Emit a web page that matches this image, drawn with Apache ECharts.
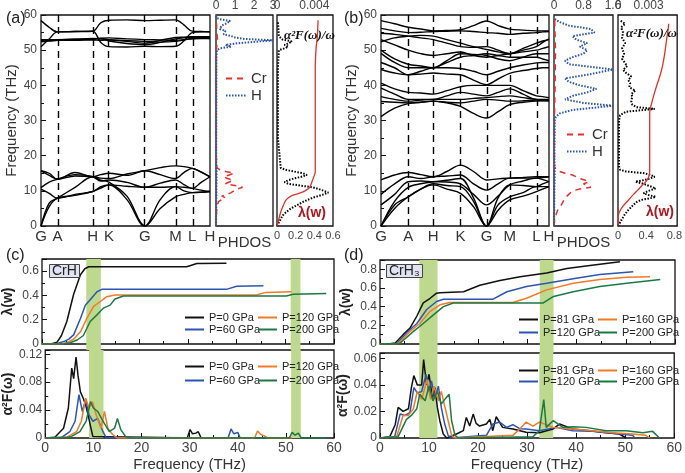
<!DOCTYPE html>
<html>
<head>
<meta charset="utf-8">
<script src="https://cdn.jsdelivr.net/npm/echarts@6/dist/echarts.min.js"></script>
<style>
  html, body { margin: 0; padding: 0; background: #fff; }
  #main { width: 685px; height: 473px; }
</style>
</head>
<body>
<div id="main"></div>
<script>
  // high symmetry points along the k-path
  const kNames = ['G', 'A', 'H', 'K', 'G', 'M', 'L', 'H']
  const kposA = [0, 0.097, 0.306, 0.402, 0.615, 0.796, 0.895, 1]
  const kposB = [0, 0.162, 0.311, 0.473, 0.628, 0.766, 0.925, 1]

  // (a) CrH bands, values at each point and midway between (THz)
  const bandsLowA = [
    [0, 5.5, 7.9, 8.7, 9.8, 10.8, 11.7, 7.5, 0, 5.0, 8.3, 9.0, 9.5, 9.6, 9.8],
    [0, 6.5, 7.9, 11.0, 14.0, 13.0, 12.5, 8.5, 0, 7.5, 11.2, 11.0, 10.7, 10.2, 9.8],
    [10.5, 9.3, 7.9, 9.0, 9.8, 11.2, 11.7, 11.3, 11.0, 11.0, 11.2, 10.0, 9.5, 9.6, 9.8],
    [10.9, 12.5, 13.3, 14.6, 14.0, 12.8, 13.1, 12.4, 11.0, 12.2, 13.1, 11.8, 10.7, 12.4, 14.0],
    [15.7, 14.4, 13.3, 15.2, 14.0, 14.6, 15.0, 14.4, 15.7, 14.6, 13.5, 15.2, 16.4, 15.3, 14.0],
    [15.7, 15.0, 13.3, 14.2, 14.0, 13.6, 13.5, 14.8, 15.7, 16.6, 17.1, 16.9, 16.4, 15.4, 14.0]
  ]
  const bandsHighA = [
    [58.4, 56.5, 55.2, 55.3, 55.4, 57.8, 58.5, 58.6, 58.4, 58.5, 58.6, 57.2, 55.4, 55.3, 55.2],
    [51.0, 53.2, 55.2, 55.3, 55.4, 52.2, 51.0, 50.9, 51.1, 51.0, 51.1, 52.6, 55.0, 55.2, 55.2],
    [52.8, 52.9, 53.0, 53.1, 53.3, 53.2, 53.0, 52.5, 52.0, 52.8, 53.6, 53.7, 53.8, 53.8, 53.8],
    [52.5, 52.7, 52.8, 52.9, 53.1, 53.3, 52.6, 51.9, 51.6, 52.2, 53.2, 53.5, 53.6, 53.5, 53.3],
    [52.4, 52.6, 52.8, 52.8, 52.9, 52.8, 52.9, 52.7, 52.5, 52.3, 52.5, 52.9, 53.2, 53.3, 53.3],
    [53.0, 53.0, 53.0, 53.1, 53.2, 53.4, 53.5, 53.2, 53.0, 52.9, 52.8, 53.0, 53.3, 53.5, 53.8]
  ]

  // (b) CrH3 bands
  const bandsLowB = [
    [0, 5.0, 8.3, 10.5, 11.7, 10.5, 9.3, 5.5, 0, 4.5, 7.4, 8.5, 9.8, 10.5, 11.2],
    [0, 6.0, 8.3, 10.5, 12.0, 11.5, 11.2, 7.0, 0, 6.0, 8.3, 9.5, 11.2, 11.2, 11.2],
    [0, 7.0, 11.0, 12.0, 12.6, 13.0, 13.5, 8.0, 0, 8.0, 11.7, 11.5, 11.2, 12.0, 12.6],
    [6.0, 9.0, 12.6, 12.8, 12.6, 12.5, 12.0, 9.0, 6.0, 8.5, 11.7, 12.8, 13.6, 13.2, 12.6],
    [9.0, 12.0, 14.0, 13.5, 14.0, 14.2, 14.5, 12.0, 10.2, 12.0, 13.6, 13.6, 13.6, 13.8, 14.0],
    [13.1, 14.5, 15.2, 14.6, 14.0, 15.5, 17.3, 15.5, 13.1, 13.4, 13.6, 13.8, 14.0, 14.0, 14.0]
  ]
  const bandsHighB = [
    [58.4, 57.5, 56.5, 56.0, 55.5, 55.6, 55.8, 57.0, 58.3, 57.0, 56.0, 55.7, 55.5, 55.5, 55.5],
    [56.2, 55.5, 55.0, 55.1, 55.3, 55.4, 55.5, 55.3, 55.0, 54.8, 54.5, 54.8, 55.0, 55.2, 55.3],
    [54.8, 54.5, 54.0, 53.5, 53.0, 52.0, 51.0, 50.8, 51.0, 50.0, 49.0, 50.0, 51.0, 52.2, 53.2],
    [52.4, 53.5, 54.0, 54.2, 54.0, 53.0, 52.0, 51.0, 50.2, 49.5, 49.0, 50.5, 52.0, 52.6, 53.0],
    [53.0, 51.5, 50.0, 49.0, 48.5, 49.0, 49.5, 48.5, 48.0, 48.5, 49.0, 49.5, 50.0, 50.5, 51.0],
    [50.0, 47.5, 46.0, 45.5, 45.0, 46.5, 48.0, 48.5, 49.0, 48.5, 48.0, 48.0, 48.0, 47.5, 47.0],
    [49.1, 46.5, 45.0, 45.0, 45.0, 47.0, 49.0, 48.8, 48.5, 47.5, 47.0, 48.0, 49.0, 49.0, 49.0],
    [46.5, 45.0, 43.0, 44.0, 45.0, 45.0, 44.8, 44.0, 43.0, 44.0, 45.0, 45.8, 46.4, 46.5, 46.5],
    [44.5, 43.5, 43.0, 43.2, 43.5, 43.2, 43.0, 41.5, 40.2, 41.8, 43.4, 44.2, 44.8, 45.0, 45.0],
    [40.6, 39.0, 38.0, 37.8, 37.5, 38.5, 39.6, 40.0, 40.0, 40.0, 40.0, 38.5, 37.0, 36.8, 36.5],
    [39.2, 37.5, 36.0, 36.0, 36.0, 37.0, 38.0, 37.5, 37.0, 38.0, 39.0, 37.5, 36.0, 36.0, 36.0],
    [36.8, 36.0, 35.5, 35.8, 36.0, 36.0, 36.0, 36.3, 36.5, 36.8, 37.0, 36.5, 36.0, 35.9, 35.8],
    [35.4, 35.2, 35.0, 35.2, 35.5, 35.2, 35.0, 35.5, 36.0, 35.8, 35.5, 35.6, 35.8, 35.7, 35.6],
    [31.1, 33.5, 34.8, 35.2, 35.5, 35.0, 34.0, 32.0, 30.7, 32.5, 34.5, 35.2, 35.5, 35.6, 35.6]
  ]

  // phonon DOS, [dos, freq]
  const crDosA = [[0,0],[0.01,2],[0.03,4],[0.06,6],[0.15,7],[0.3,7.5],[0.5,8],[0.3,8.5],[0.6,9],[0.8,9.5],[0.7,10],[1.1,10.5],[1.4,11],[1.0,11.5],[0.5,12],[0.7,12.5],[0.9,13],[0.6,13.5],[0.4,14],[0.7,14.5],[0.95,15],[0.5,15.5],[0.2,16],[0.05,16.5],[0.02,17],[0.01,20],[0.01,40],[0.02,50],[0.05,52],[0.08,53],[0.05,55],[0.02,58],[0,60]]
  const hDosA = [[0,0],[0.02,10],[0.03,16],[0.01,20],[0.02,48],[0.05,50],[0.2,50.5],[0.8,51],[0.5,51.5],[1.2,52],[2.3,52.5],[3.0,52.8],[1.5,53.2],[1.0,53.6],[0.8,54],[0.4,54.5],[0.3,55],[0.5,55.5],[0.2,56],[0.1,56.5],[0.3,57],[0.5,57.5],[0.75,58.3],[0.2,58.8],[0.02,59.2],[0,60]]
  const crDosB = [[0,0],[0.02,2],[0.05,3],[0.08,4],[0.12,5],[0.2,6],[0.25,7],[0.3,8],[0.4,9],[0.5,10],[0.7,10.5],[1.0,11],[1.05,11.5],[0.8,12],[0.95,12.5],[0.85,13],[0.7,13.5],[0.6,14],[0.5,14.5],[0.3,15],[0.15,15.5],[0.05,16],[0.01,17],[0.01,30],[0.03,40],[0.04,50],[0.02,58],[0,60]]
  const hDosB = [[0,0],[0.01,10],[0.02,15],[0.01,20],[0.02,30],[0.05,31],[0.15,32],[0.5,33],[1.6,34.2],[0.8,35],[0.3,36],[0.5,37],[0.9,38],[1.15,39],[0.7,40],[0.4,41],[0.3,42],[0.9,43],[1.6,44.5],[1.2,45],[0.4,46],[0.3,47],[0.5,48],[0.8,49],[0.9,50],[0.7,51],[0.9,52],[0.6,53],[0.5,54],[1.1,55],[1.0,56],[0.4,57],[0.15,58],[0,59]]

  // alpha^2F/omega and lambda, [value, freq]
  const a2fA = [[0,0],[0.0002,1],[0.0004,2],[0.0006,3],[0.001,4],[0.0015,5],[0.0022,6],[0.0029,7],[0.0038,8],[0.005,9],[0.0055,9.5],[0.005,10],[0.0045,10.5],[0.0038,11],[0.0025,11.5],[0.0012,12],[0.0008,12.5],[0.0012,13],[0.0018,13.5],[0.0026,14],[0.0032,14.5],[0.0028,15],[0.0018,15.5],[0.0009,16],[0.0004,16.5],[0.0002,17],[0.0001,25],[0.0001,45],[0.0002,50],[0.0008,50.5],[0.0012,51],[0.0008,51.5],[0.0013,52],[0.0016,52.5],[0.0006,53],[0.0002,54],[0.0001,58]]
  const lamA = [[0,0],[0.02,2],[0.04,4],[0.07,6],[0.1,7.5],[0.15,8.5],[0.25,9.4],[0.3,10],[0.35,11],[0.38,13],[0.41,15.5],[0.41,45],[0.42,51],[0.43,53],[0.44,58.5]]
  const a2fB = [[0,0],[0.0002,1],[0.0004,2],[0.0006,3],[0.001,4.5],[0.0015,6],[0.0019,7],[0.0024,7.5],[0.0033,8],[0.0037,8.3],[0.003,8.8],[0.0025,9.3],[0.003,10],[0.0037,10.7],[0.0036,11.2],[0.0025,12],[0.0017,12.6],[0.0028,13.2],[0.0036,14],[0.0032,14.5],[0.0026,15],[0.0008,15.5],[0.0002,16],[0.0001,17],[0.0001,30],[0.0002,31.5],[0.0008,32.5],[0.0036,33.3],[0.0018,33.8],[0.0014,34.5],[0.0013,35.5],[0.0014,36.8],[0.0013,37.5],[0.0017,38.5],[0.0011,39.5],[0.0012,40.6],[0.001,41.5],[0.0013,42.5],[0.0008,43.5],[0.0005,44.4],[0.0009,45.5],[0.0007,46.3],[0.0004,47.5],[0.0006,49],[0.0004,50.5],[0.0007,52],[0.0004,53.5],[0.0005,55],[0.0003,56.5],[0.0007,57.5],[0.0002,58.5]]
  const lamB = [[0,0],[0.005,3],[0.02,4],[0.065,5.5],[0.15,7.4],[0.22,9],[0.28,10.2],[0.34,11.5],[0.41,13],[0.445,14.5],[0.45,16],[0.45,32],[0.46,33.5],[0.49,35.8],[0.52,38],[0.56,40.6],[0.6,43],[0.63,45.3],[0.655,48],[0.67,50],[0.69,53],[0.71,55.7],[0.72,57.5]]

  // (c) CrH, [freq, value]
  const lamC0 = [[0,0],[2,0.002],[3.1,0.015],[4,0.07],[5.1,0.185],[6.5,0.41],[7.9,0.57],[8.8,0.62],[9.6,0.636],[29.7,0.636],[30.4,0.645],[31.8,0.663],[37.9,0.666]]
  const lamC60 = [[0,0],[3,0.003],[4.5,0.02],[5.5,0.04],[6.5,0.075],[7.9,0.21],[8.9,0.32],[9.9,0.365],[11.3,0.43],[12.3,0.45],[37.9,0.45],[40,0.475],[45.5,0.48]]
  const lamC120 = [[0,0],[4,0.003],[5.1,0.01],[6.5,0.04],[7.9,0.1],[9.2,0.21],[10.6,0.31],[12,0.35],[13.3,0.39],[15,0.403],[44,0.403],[46,0.425],[51.3,0.43]]
  const lamC200 = [[0,0],[4.5,0.003],[5.8,0.01],[7.3,0.035],[8.5,0.07],[9.9,0.185],[11.3,0.24],[12.6,0.295],[14,0.32],[15,0.37],[16.7,0.395],[50.2,0.395],[51.6,0.41],[58.4,0.415]]
  const a2fC0 = [[0,0],[2,0.001],[2.4,0.002],[3.8,0.014],[4.8,0.043],[5.5,0.1],[5.9,0.085],[6.4,0.116],[6.8,0.09],[7.3,0.066],[7.9,0.057],[8.4,0.047],[8.9,0.033],[9.4,0.017],[9.9,0.002],[10.3,0],[29.5,0],[30.1,0.012],[30.6,0.006],[31.3,0.007],[31.8,0.009],[32.4,0],[38,0]]
  const a2fC60 = [[0,0],[3.4,0.001],[5.1,0.009],[6.2,0.024],[7,0.062],[7.7,0.038],[8.4,0.055],[9.1,0.033],[9.9,0.024],[10.9,0.028],[12,0.009],[12.6,0.001],[38,0],[38.6,0.013],[39.2,0.006],[40,0.008],[40.5,0],[45.5,0]]
  const a2fC120 = [[0,0],[4.4,0.001],[6.5,0.009],[7.5,0.024],[8.4,0.057],[9.1,0.043],[9.8,0.052],[10.6,0.033],[11.6,0.014],[12.3,0.038],[13,0.014],[14,0.005],[15,0],[43.5,0],[44.1,0.01],[44.8,0.005],[45.5,0.003],[46.2,0],[51.3,0]]
  const a2fC200 = [[0,0],[5.1,0.001],[7.2,0.009],[8.5,0.024],[9.4,0.052],[10,0.043],[10.9,0.038],[12,0.024],[13.3,0.009],[14.4,0.014],[15,0.028],[15.7,0.012],[16.7,0.002],[17.5,0],[50.7,0],[51.3,0.008],[51.9,0.004],[52.6,0.007],[53.2,0],[58.4,0]]

  // (d) CrH3
  const lamD81 = [[0,0],[2,0.002],[3.1,0.01],[4.7,0.1],[6.1,0.17],[7.5,0.3],[8.8,0.44],[10.2,0.49],[11.5,0.545],[12.2,0.55],[17,0.56],[20.3,0.63],[24.4,0.68],[28.5,0.72],[33.9,0.76],[38,0.81],[42.7,0.84],[48.8,0.88]]
  const lamD120 = [[0,0],[3.5,0.005],[5.4,0.12],[7.5,0.22],[9.5,0.37],[11.5,0.455],[12.9,0.48],[23,0.48],[25.8,0.56],[29.8,0.615],[33.9,0.65],[39.3,0.7],[44.7,0.745],[51.5,0.775]]
  const lamD160 = [[0,0],[3.7,0.005],[6.1,0.135],[8.1,0.22],[10.2,0.35],[12.2,0.42],[14.2,0.445],[27,0.445],[29.8,0.49],[33.9,0.58],[39.3,0.65],[44.7,0.69],[50.2,0.715],[54.9,0.72]]
  const lamD200 = [[0,0],[4,0.005],[6.8,0.135],[8.8,0.22],[10.8,0.31],[12.9,0.4],[14.9,0.44],[33.2,0.44],[35.3,0.51],[39.3,0.56],[44.7,0.615],[50.2,0.65],[57,0.69]]
  const a2fD81 = [[0,0],[2,0.001],[3.1,0.01],[3.7,0.023],[4.7,0.02],[5.8,0.022],[6.4,0.038],[6.9,0.047],[7.6,0.04],[8.5,0.04],[8.9,0.059],[9.5,0.04],[10,0.048],[10.7,0.03],[11.2,0.038],[11.7,0.023],[12.2,0.013],[12.9,0.003],[13.6,0],[15.6,0.003],[17,0.0055],[17.6,0.0155],[18.3,0.009],[19,0.018],[19.6,0.011],[20.3,0.009],[21.7,0.0105],[22.4,0.014],[23,0.0055],[23.7,0.016],[25,0.008],[27.1,0.0068],[29.8,0.0043],[32.5,0.004],[35.3,0.0068],[36.6,0.0105],[39.3,0.0068],[42.7,0.0055],[46.1,0.004],[48.8,0.003],[50.2,0]]
  const a2fD120 = [[0,0],[3,0.001],[4.1,0.018],[5.1,0.017],[6.1,0.019],[6.9,0.038],[7.6,0.034],[8.5,0.035],[9.4,0.048],[9.9,0.035],[10.5,0.043],[11.2,0.03],[11.9,0.039],[12.5,0.023],[13.2,0.0105],[13.9,0.002],[14.6,0],[21.7,0.002],[23,0.0105],[24.4,0.012],[25.8,0.008],[27.1,0.01],[28.5,0.007],[29.8,0.0068],[32.5,0.0055],[35.9,0.008],[39.3,0.0055],[43.4,0.005],[47.5,0.0035],[51.5,0.002],[52,0]]
  const a2fD160 = [[0,0],[3.4,0.001],[4.7,0.017],[5.8,0.017],[6.8,0.022],[7.6,0.035],[8.5,0.029],[9.6,0.044],[10.3,0.029],[11,0.039],[11.9,0.028],[12.5,0.035],[13.2,0.024],[13.9,0.013],[14.6,0.002],[15.3,0],[27.1,0.002],[28.5,0.0068],[29.8,0.012],[31.2,0.009],[32.5,0.012],[35.3,0.008],[39.3,0.0068],[43.4,0.0055],[47.5,0.004],[51.5,0.003],[54.2,0.002],[55,0]]
  const a2fD200 = [[0,0],[3.7,0.001],[5.4,0.014],[6.4,0.017],[7.5,0.022],[8.1,0.033],[9.2,0.028],[10,0.039],[10.8,0.028],[11.7,0.035],[12.5,0.0255],[13.4,0.03],[14.1,0.033],[14.6,0.013],[15.3,0.002],[16,0],[31.2,0.001],[32.5,0.0055],[33.4,0.029],[33.9,0.008],[35.3,0.013],[37.3,0.008],[39.3,0.0085],[42,0.008],[46.1,0.0055],[50.2,0.0055],[53.6,0.004],[55.6,0.005],[57,0]]

  // highlighted frequency windows (THz)
  const greenC = [[9.1, 12.1], [51.1, 53.1]]
  const greenD = [[8.0, 11.7], [32.5, 35.3]]

  const cBlack = '#111', cBlue = '#2d55b2', cOrange = '#f27a28', cGreen = '#1b7a44'
  const cRed = '#e3312b', cDosBlue = '#2a53b6'

  const chart = echarts.init(document.getElementById('main'))

  function samplePos (kpos) {
    let out = []
    for (let i = 0; i < kpos.length; i++) {
      out.push(kpos[i])
      if (i < kpos.length - 1) out.push((kpos[i] + kpos[i + 1]) / 2)
    }
    return out
  }
  function kLabel (kpos) {
    return function (v) {
      let best = 0
      kpos.forEach((p, i) => { if (Math.abs(p - v) < Math.abs(kpos[best] - v)) best = i })
      return kNames[best]
    }
  }

  const frame = { show: true, borderColor: '#111', borderWidth: 1.3 }
  const noAxis = { axisLine: { show: false }, splitLine: { show: false }, axisTick: { show: false }, axisLabel: { show: false } }
  const lbl = { fontSize: 12, color: '#444' }
  const tickIn = { inside: true, length: 5, lineStyle: { color: '#111' } }
  const minorIn = { show: true, splitNumber: 2, length: 3, lineStyle: { color: '#111' } }

  let series = []

  function bandSeries (bands, kpos, xi, yi) {
    const kx = samplePos(kpos)
    bands.forEach((b, n) => {
      let s = {
        type: 'line', xAxisIndex: xi, yAxisIndex: yi, smooth: 0.35, showSymbol: false, silent: true,
        lineStyle: { color: '#000', width: 1.4 },
        data: b.map((v, i) => [kx[i], v])
      }
      if (n === 0) {
        s.markLine = {
          silent: true, symbol: 'none', label: { show: false },
          lineStyle: { color: '#000', type: [7, 5], width: 1.4 },
          data: kpos.slice(1, -1).map(v => ({ xAxis: v }))
        }
      }
      series.push(s)
    })
  }
  bandSeries(bandsLowA.concat(bandsHighA), kposA, 0, 0)
  bandSeries(bandsLowB.concat(bandsHighB), kposB, 5, 3)

  function dosSeries (cr, h, xi, yi) {
    series.push({ name: 'Cr', type: 'line', xAxisIndex: xi, yAxisIndex: yi, showSymbol: false, symbol: 'none',
      lineStyle: { color: cRed, width: 1.5, type: [6, 5] }, itemStyle: { color: cRed }, data: cr })
    series.push({ name: 'H', type: 'line', xAxisIndex: xi, yAxisIndex: yi, showSymbol: false, symbol: 'none',
      lineStyle: { color: cDosBlue, width: 2, type: [1.5, 1.5] }, itemStyle: { color: cDosBlue }, data: h })
  }
  dosSeries(crDosA, hDosA, 1, 1)
  dosSeries(crDosB, hDosB, 6, 4)

  function eliSeries (a2f, lam, xiTop, xiBot, yi) {
    series.push({ type: 'line', xAxisIndex: xiTop, yAxisIndex: yi, showSymbol: false, silent: true,
      lineStyle: { color: '#000', width: 2, type: [1.5, 1.5] }, data: a2f })
    series.push({ type: 'line', xAxisIndex: xiBot, yAxisIndex: yi, showSymbol: false, silent: true, smooth: 0.3,
      lineStyle: { color: cRed, width: 1.3 }, data: lam })
  }
  eliSeries(a2fA, lamA, 3, 4, 2)
  eliSeries(a2fB, lamB, 8, 9, 5)

  function greenArea (xi, yi, ranges) {
    series.push({ type: 'line', xAxisIndex: xi, yAxisIndex: yi, data: [], z: 1, silent: true,
      markArea: { silent: true, itemStyle: { color: '#bcd98d' }, data: ranges.map(r => [{ xAxis: r[0] }, { xAxis: r[1] }]) } })
  }
  function presSeries (name, color, data, xi, yi) {
    series.push({ name: name, type: 'line', xAxisIndex: xi, yAxisIndex: yi, showSymbol: false, symbol: 'none', z: 3,
      lineStyle: { color: color, width: 1.5 }, itemStyle: { color: color }, data: data })
  }
  greenArea(10, 6, greenC)
  greenArea(11, 7, greenC)
  greenArea(14, 10, greenC)
  greenArea(12, 8, greenD)
  greenArea(13, 9, greenD)
  greenArea(15, 11, greenD)
  presSeries('P=0 GPa', cBlack, lamC0, 10, 6)
  presSeries('P=60 GPa', cBlue, lamC60, 10, 6)
  presSeries('P=120 GPa', cOrange, lamC120, 10, 6)
  presSeries('P=200 GPa', cGreen, lamC200, 10, 6)
  presSeries('P=0 GPa', cBlack, a2fC0, 11, 7)
  presSeries('P=60 GPa', cBlue, a2fC60, 11, 7)
  presSeries('P=120 GPa', cOrange, a2fC120, 11, 7)
  presSeries('P=200 GPa', cGreen, a2fC200, 11, 7)
  // (d) names carry a trailing space so their legend colours stay apart from (c)
  presSeries('P=81 GPa', cBlack, lamD81, 12, 8)
  presSeries('P=120 GPa ', cBlue, lamD120, 12, 8)
  presSeries('P=160 GPa', cOrange, lamD160, 12, 8)
  presSeries('P=200 GPa ', cGreen, lamD200, 12, 8)
  presSeries('P=81 GPa', cBlack, a2fD81, 13, 9)
  presSeries('P=120 GPa ', cBlue, a2fD120, 13, 9)
  presSeries('P=160 GPa', cOrange, a2fD160, 13, 9)
  presSeries('P=200 GPa ', cGreen, a2fD200, 13, 9)

  const freqAxisX = (gi, withLabels) => ({
    type: 'value', gridIndex: gi, min: 0, max: 60, interval: 10,
    axisLine: { show: false }, splitLine: { show: false },
    axisTick: tickIn, minorTick: minorIn,
    axisLabel: withLabels ? { fontSize: 14, color: '#444', margin: 3 } : { show: false },
    name: withLabels ? 'Frequency (THz)' : '', nameLocation: 'middle', nameGap: 19,
    nameTextStyle: { fontSize: 15, color: '#333' }
  })
  const gapAxisX = gi => Object.assign({ type: 'value', gridIndex: gi, min: 0, max: 60 }, noAxis)
  const gapAxisY = gi => Object.assign({ type: 'value', gridIndex: gi, min: 0, max: 1 }, noAxis)
  const valueAxisY = (gi, max, interval, name) => ({
    type: 'value', gridIndex: gi, min: 0, max: max, interval: interval,
    axisLine: { show: false }, splitLine: { show: false },
    axisTick: tickIn, minorTick: minorIn,
    axisLabel: Object.assign({ showMaxLabel: false, margin: 3 }, lbl),
    name: name, nameLocation: 'middle', nameGap: 27, nameRotate: 90,
    nameTextStyle: { fontSize: 14, fontWeight: 'bold', color: '#222' }
  })
  const freqAxisY = (gi, labelled) => labelled ? {
    type: 'value', gridIndex: gi, min: 0, max: 60, interval: 10,
    axisLine: { show: false }, splitLine: { show: false },
    axisTick: tickIn, minorTick: minorIn,
    axisLabel: Object.assign({ margin: 4 }, lbl),
    name: 'Frequency (THz)', nameLocation: 'middle', nameGap: 22, nameRotate: 90,
    nameTextStyle: { fontSize: 15, color: '#333' }
  } : Object.assign({ type: 'value', gridIndex: gi, min: 0, max: 60 }, noAxis)
  const topAxis = (gi, max, interval) => ({
    type: 'value', gridIndex: gi, position: 'top', min: 0, max: max, interval: interval,
    axisLine: { show: false }, splitLine: { show: false }, axisTick: { show: false },
    axisLabel: Object.assign({ margin: 3, showMaxLabel: max % interval === 0 }, lbl)
  })
  const botAxis = (gi, max, interval) => ({
    type: 'value', gridIndex: gi, position: 'bottom', min: 0, max: max, interval: interval,
    axisLine: { show: false }, splitLine: { show: false }, axisTick: { show: false },
    axisLabel: { margin: 4, fontSize: 11, color: '#444', showMaxLabel: Math.abs(max / interval - Math.round(max / interval)) < 1e-9 }
  })
  const phdosAxis = gi => Object.assign({
    type: 'value', gridIndex: gi, position: 'bottom', min: 0, max: 1,
    name: 'PHDOS', nameLocation: 'middle', nameGap: 9, nameTextStyle: { fontSize: 15, color: '#333' }
  }, noAxis)
  const kAxis = (gi, kpos) => ({
    type: 'value', gridIndex: gi, min: 0, max: 1,
    axisLine: { show: false }, splitLine: { show: false }, axisTick: { show: false },
    axisLabel: { customValues: kpos, formatter: kLabel(kpos), fontSize: 15, color: '#333', margin: 3 }
  })

  const legendBase = {
    orient: 'vertical', itemWidth: 19, itemHeight: 10, itemGap: 2, selectedMode: false,
    itemStyle: { opacity: 0 },
    textStyle: { fontSize: 11, color: '#222' }
  }
  const dosLegend = (left, top) => Object.assign({}, legendBase, {
    left: left, top: top, data: ['Cr', 'H'], itemWidth: 20, itemGap: 2, textStyle: { fontSize: 15, color: '#333' }
  })
  const pLegend = (left, top, names, gap) => Object.assign({}, legendBase, { left: left, top: top, data: names, itemGap: gap })

  const plain = (text, left, top, size) => ({ text: text, left: left, top: top, textStyle: { fontSize: size, fontWeight: 'normal', color: '#222' } })
  const eliLabel = (left, top) => ({ text: 'α²F(ω)/ω', left: left, top: top,
    textStyle: { fontSize: 13, fontWeight: 'bold', fontStyle: 'italic', fontFamily: 'Liberation Serif', color: '#111' } })
  const lamLabel = (left, top) => ({ text: 'λ(w)', left: left, top: top,
    textStyle: { fontSize: 14, fontWeight: 'bold', color: '#b0141c' } })
  const boxLabel = (text, left, top) => ({ text: text, left: left, top: top, padding: [0, 3, 0, 3],
    backgroundColor: '#e2e2f2', borderColor: '#444', borderWidth: 1,
    textStyle: { fontSize: 14, fontWeight: 'normal', color: '#222', lineHeight: 14 } })

  chart.setOption({
    animation: false,
    textStyle: { fontFamily: 'Liberation Sans' },
    title: [
      plain('(a)', 1, 6, 16), plain('(b)', 339, 6, 16), plain('(c)', 1, 243, 16), plain('(d)', 339, 243, 16),
      eliLabel(279, 24), eliLabel(621, 22),
      lamLabel(293, 201), lamLabel(641, 200),
      boxLabel('CrH', 49, 264), boxLabel('CrH₃', 386, 264)
    ],
    legend: [
      dosLegend(220, 66), dosLegend(561, 122),
      pLegend(179, 307, ['P=0 GPa', 'P=60 GPa'], 1),
      pLegend(252, 307, ['P=120 GPa', 'P=200 GPa'], 1),
      pLegend(179, 356, ['P=0 GPa', 'P=60 GPa'], 3),
      pLegend(252, 356, ['P=120 GPa', 'P=200 GPa'], 3),
      pLegend(513, 309, ['P=81 GPa', 'P=120 GPa '], 2),
      pLegend(592, 309, ['P=160 GPa', 'P=200 GPa '], 2),
      pLegend(513, 360, ['P=81 GPa', 'P=120 GPa '], 0),
      pLegend(592, 360, ['P=160 GPa', 'P=200 GPa '], 0)
    ],
    grid: [
      Object.assign({ left: 41, top: 15, width: 169, height: 211 }, frame),
      Object.assign({ left: 216, top: 15, width: 57, height: 211 }, frame),
      Object.assign({ left: 277, top: 15, width: 56, height: 211 }, frame),
      Object.assign({ left: 381, top: 15, width: 168, height: 211 }, frame),
      Object.assign({ left: 554, top: 15, width: 59, height: 211 }, frame),
      Object.assign({ left: 618, top: 15, width: 65, height: 211 }, frame),
      Object.assign({ left: 42, top: 259, width: 292, height: 85 }, frame),
      Object.assign({ left: 42, top: 350, width: 292, height: 88 }, frame),
      Object.assign({ left: 380, top: 260, width: 295, height: 84 }, frame),
      Object.assign({ left: 380, top: 353, width: 295, height: 86 }, frame),
      // strips between the stacked plots, so the green windows run through
      { left: 42, top: 344, width: 292, height: 6 },
      { left: 380, top: 344, width: 295, height: 9 }
    ],
    xAxis: [
      kAxis(0, kposA),
      topAxis(1, 3, 1),
      phdosAxis(1),
      topAxis(2, 0.006, 0.004),
      botAxis(2, 0.6, 0.2),
      kAxis(3, kposB),
      topAxis(4, 1.6, 0.8),
      phdosAxis(4),
      topAxis(5, 0.0058, 0.003),
      botAxis(5, 0.84, 0.4),
      freqAxisX(6, false),
      freqAxisX(7, true),
      freqAxisX(8, false),
      freqAxisX(9, true),
      gapAxisX(10),
      gapAxisX(11)
    ],
    yAxis: [
      freqAxisY(0, true), freqAxisY(1, false), freqAxisY(2, false),
      freqAxisY(3, true), freqAxisY(4, false), freqAxisY(5, false),
      valueAxisY(6, 0.7, 0.2, 'λ(w)'),
      valueAxisY(7, 0.126, 0.04, 'α²F(ω)'),
      valueAxisY(8, 0.9, 0.2, 'λ(w)'),
      valueAxisY(9, 0.064, 0.02, 'α²F(ω)'),
      gapAxisY(10),
      gapAxisY(11)
    ],
    series: series
  })
</script>
</body>
</html>
